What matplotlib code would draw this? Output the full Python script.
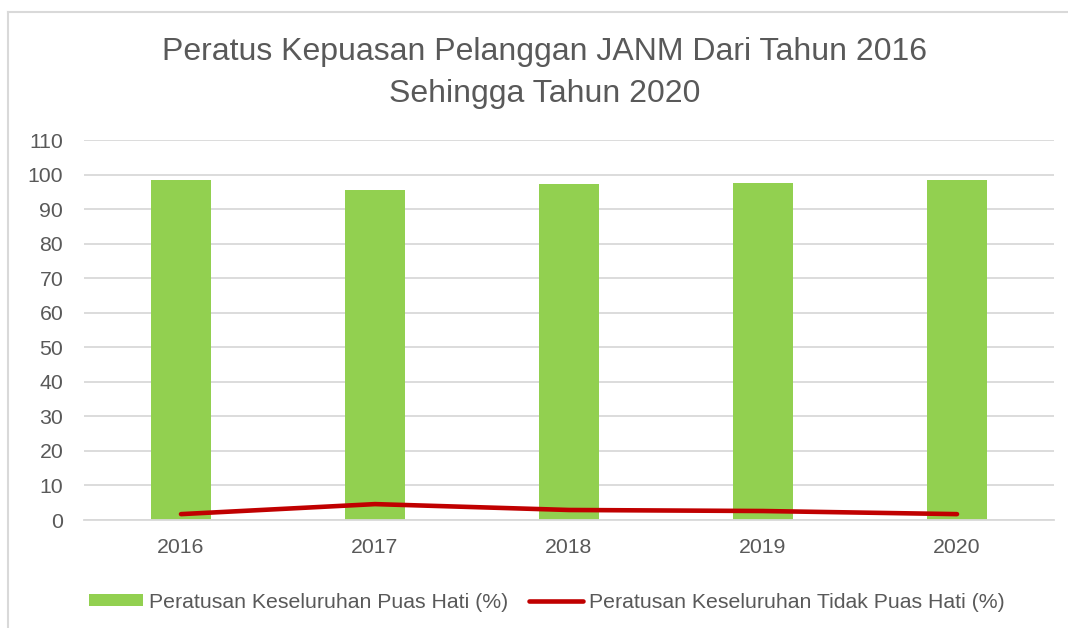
import matplotlib
matplotlib.use("Agg")
import matplotlib.pyplot as plt
from matplotlib.lines import Line2D
from matplotlib.patches import Patch

years = ["2016", "2017", "2018", "2019", "2020"]
puas_hati = [98.4, 95.4, 97.3, 97.5, 98.4]
tidak_puas_hati = [1.7, 4.6, 2.9, 2.6, 1.7]
yticks = list(range(0, 111, 10))

title = "Peratus Kepuasan Pelanggan JANM Dari Tahun 2016\nSehingga Tahun 2020"
label_bar = "Peratusan Keseluruhan Puas Hati (%)"
label_line = "Peratusan Keseluruhan Tidak Puas Hati (%)"

GREEN = "#92D050"
RED = "#C00000"
GRID = "#D9D9D9"
TEXT = "#595959"

plt.rcParams['font.family'] = ['Liberation Sans', 'DejaVu Sans']

W, H = 1068, 628
fig = plt.figure(figsize=(W / 100, H / 100), dpi=100)
fig.patch.set_facecolor("white")

# chart border
fig.add_artist(Line2D([8 / W, 8 / W], [0, 1 - 12 / H], transform=fig.transFigure, color=GRID, lw=1.5))
fig.add_artist(Line2D([8 / W, 1.0], [1 - 12 / H, 1 - 12 / H], transform=fig.transFigure, color=GRID, lw=1.5))

left, right, bottom, top = 84, 1054, 520, 140
ax = fig.add_axes([left / W, 1 - bottom / H, (right - left) / W, (bottom - top) / H])

x = list(range(len(years)))
ax.bar(x, puas_hati, width=0.31, color=GREEN, zorder=2)
ax.plot(x, tidak_puas_hati, color=RED, lw=3.3, solid_capstyle='round', zorder=3)

ax.set_xlim(-0.5, len(years) - 0.5)
ax.set_ylim(0, 110)
ax.set_yticks(yticks)
ax.set_xticks(x)
ax.set_xticklabels(years)
ax.yaxis.grid(True, color=GRID, lw=1.3, zorder=0)
ax.set_axisbelow(True)
for s in ["top", "right", "left"]:
    ax.spines[s].set_visible(False)
ax.spines["bottom"].set_color(GRID)
ax.spines["bottom"].set_linewidth(1.3)
ax.tick_params(axis='both', length=0, labelsize=15.3, colors=TEXT)
ax.tick_params(axis='x', pad=13)
ax.tick_params(axis='y', pad=15)

fig.text(545 / W, 1 - 73 / H, title, ha='center', va='center', fontsize=23,
         color=TEXT, linespacing=1.48)

handles = [Patch(facecolor=GREEN, edgecolor='none'),
           Line2D([0], [0], color=RED, lw=3.3, solid_capstyle='round')]
fig.legend(handles, [label_bar, label_line], loc='center',
           bbox_to_anchor=(547 / W, 1 - 602 / H), ncol=2, frameon=False,
           fontsize=15.3, labelcolor=TEXT, handlelength=2.5, handleheight=0.5,
           handletextpad=0.3, columnspacing=1.0)

fig.savefig("out.png", dpi=100, facecolor="white")
